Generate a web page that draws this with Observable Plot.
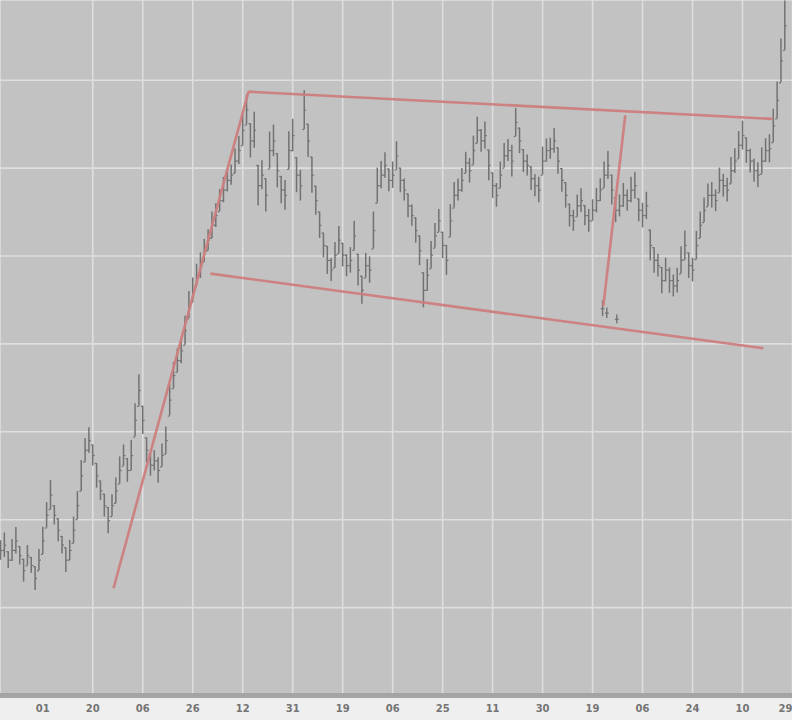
<!DOCTYPE html>
<html><head><meta charset="utf-8">
<script src="https://cdn.jsdelivr.net/npm/d3@7"></script>
<script src="https://cdn.jsdelivr.net/npm/@observablehq/plot@0.6"></script>
<style>html,body{margin:0;padding:0;background:#efefef;overflow:hidden;}</style>
</head><body><div id="chart"></div>
<script>
// Bar midpoints (price units), one per trading day
const mid = [
16.5,17.1,15.4,16.5,17.6,15.9,14.2,15.9,14.8,13.3,
15.4,17.6,20.5,22.8,20.5,18.8,17.1,15.4,16.5,18.8,
21.6,25.0,27.9,29.0,27.3,25.0,23.3,21.6,19.9,21.6,
23.3,25.6,27.3,25.6,27.3,31.3,34.7,31.3,27.9,26.2,
26.7,25.6,27.3,29.0,33.6,36.4,38.1,39.2,41.5,44.4,
46.1,47.8,48.9,50.6,51.8,53.5,54.6,56.3,57.5,58.6,
59.2,60.8,62.0,64.3,66.6,63.1,64.3,58.0,59.2,56.9,
62.0,63.1,59.7,57.5,56.9,62.0,63.7,59.2,58.0,66.6,
63.1,59.2,56.3,53.5,51.2,49.5,48.4,50.1,51.8,50.1,
48.9,49.5,52.3,48.4,46.1,48.9,48.4,52.9,58.0,59.2,
60.3,58.6,59.2,61.4,58.6,57.5,55.7,54.6,52.9,50.6,
46.1,47.8,50.1,52.3,54.0,51.2,49.5,54.0,56.9,57.5,
58.6,60.6,59.7,62.0,64.3,63.1,63.7,60.3,58.0,56.9,
59.2,61.4,62.0,60.8,65.2,63.1,60.8,60.3,58.8,58.0,
57.5,60.8,62.0,62.2,63.1,60.8,58.6,56.9,54.6,54.0,
55.7,56.3,54.6,54.0,55.2,56.3,57.5,59.2,60.3,57.5,
55.2,55.7,56.9,56.3,57.5,58.0,55.2,54.6,55.7,51.2,
49.5,48.9,47.2,48.4,47.2,46.6,47.2,49.5,51.2,48.9,
48.4,51.2,53.5,55.2,56.9,56.9,56.3,58.6,58.0,57.5,
59.7,60.8,62.6,63.7,62.0,60.8,59.7,59.2,60.8,62.0,
62.2,64.8,67.7,72.2,76.2
];
// High-low range of each bar (price units)
const span = [
2.2,2.8,1.9,2.5,3.0,2.1,2.6,2.3,1.8,2.7,
2.4,3.1,2.9,3.3,2.2,2.6,2.0,2.8,2.3,3.0,
3.2,3.5,2.7,2.9,2.4,2.8,2.2,2.6,3.0,2.5,
2.9,3.1,2.4,2.7,3.4,3.8,3.6,3.2,2.8,2.5,
2.3,2.9,2.6,3.1,3.6,3.0,2.7,2.9,3.3,3.1,
2.8,2.5,2.9,2.6,2.4,3.0,2.7,2.5,2.9,2.6,
2.3,2.8,3.2,3.5,3.4,3.9,4.1,4.6,3.3,3.8,
4.2,3.6,3.9,3.1,3.4,4.3,3.7,4.0,3.5,4.4,
3.8,4.1,3.3,3.0,2.8,3.2,2.6,2.9,3.1,2.7,
2.5,2.9,3.3,3.6,3.2,2.8,3.0,4.2,4.0,3.1,
2.9,2.6,3.0,3.2,2.8,2.5,2.7,2.4,2.9,3.4,
4.0,3.6,3.1,2.8,2.6,3.0,3.4,3.7,2.9,2.5,
2.7,2.4,2.8,3.3,3.0,2.6,3.1,3.5,2.9,2.7,
3.0,2.8,2.5,3.6,3.2,2.9,2.6,2.4,2.7,2.5,
2.9,3.2,2.6,2.4,2.8,3.0,2.7,2.9,2.6,2.4,
2.5,2.7,2.3,2.6,2.4,2.8,2.6,3.0,3.2,3.4,
2.8,2.5,2.7,2.4,2.9,3.0,2.6,2.8,3.1,3.5,
2.9,2.6,3.0,2.7,2.9,2.5,2.8,3.1,3.3,2.9,
2.7,3.2,3.0,2.8,2.6,2.9,2.5,2.8,2.6,2.7,
3.0,2.8,3.1,3.3,2.9,2.7,2.6,2.8,3.0,2.7,
3.2,3.8,4.2,5.0,5.6
];
// stray ticks at the foot of the vertical trend line
const strayIndex = [156.6, 157.7, 160.3];
const strayMid = [44.0, 43.5, 42.8];
const straySpan = [1.8, 1.2, 1.0];

// x-axis ticks (bar index) and labels
const tickIndex = [11,24,37,50,63,76,89,102,115,128,141,154,167,180,193,206];
const tickLabels = ["01","20","06","26","12","31","19","06","25","11","30","19","06","24","10","29"];
const gridPrices = [10,20,30,40,50,60,70];

// hand-drawn trend lines (bar index, price)
const trendX1 = [29.4, 64.5, 54.6, 156.8];
const trendY1 = [12.2, 68.7, 48.0, 44.3];
const trendX2 = [64.5, 200.8, 198.4, 162.5];
const trendY2 = [68.7, 65.6, 39.5, 66.0];

const bars = mid.map((m, i) => {
  const hi = m + span[i] / 2, lo = m - span[i] / 2;
  const prev = i > 0 ? mid[i - 1] : m;
  return {i, hi, lo, open: Math.max(lo, Math.min(hi, prev)), close: m};
});
const strays = strayIndex.map((x, k) => ({i: x, hi: strayMid[k] + straySpan[k] / 2, lo: strayMid[k] - straySpan[k] / 2, m: strayMid[k]}));
const trends = trendX1.map((x, k) => ({x1: x, y1: trendY1[k], x2: trendX2[k], y2: trendY2[k]}));
const ticks = tickIndex.map((x, k) => ({x, label: tickLabels[k], last: k === tickIndex.length - 1}));

const barColor = "#727272";
const chart = Plot.plot({
  width: 792, height: 720,
  marginTop: 0, marginRight: 0, marginLeft: 0, marginBottom: 25,
  style: {background: "#efefef", fontFamily: "DejaVu Sans, sans-serif"},
  x: {domain: [0, 206], axis: null},
  y: {domain: [0, 79.07], axis: null},
  marks: [
    Plot.frame({fill: "#c2c2c2", stroke: null}),
    Plot.ruleX(tickIndex.slice(1), {stroke: "#dedede", strokeWidth: 1.6}),
    Plot.ruleY(gridPrices, {stroke: "#dedede", strokeWidth: 1.6}),
    Plot.ruleX(bars, {x: "i", y1: "lo", y2: "hi", stroke: barColor, strokeWidth: 1.5}),
    Plot.link(bars, {x1: d => d.i - 0.5, x2: "i", y1: "open", y2: "open", stroke: barColor, strokeWidth: 1.2}),
    Plot.link(bars, {x1: "i", x2: d => d.i + 0.5, y1: "close", y2: "close", stroke: barColor, strokeWidth: 1.2}),
    Plot.ruleX(strays, {x: "i", y1: "lo", y2: "hi", stroke: barColor, strokeWidth: 1.4}),
    Plot.link(strays, {x1: d => d.i - 0.5, x2: d => d.i + 0.5, y1: "m", y2: "m", stroke: barColor, strokeWidth: 1.2}),
    Plot.link(trends, {x1: "x1", y1: "y1", x2: "x2", y2: "y2", stroke: "#cd7d7d", strokeWidth: 2.6, strokeOpacity: 0.95}),
    Plot.ruleY([0], {stroke: "#a4a4a4", strokeWidth: 5}),
    Plot.text(ticks.filter(d => !d.last), {x: "x", text: "label", frameAnchor: "bottom", dy: 16, fontSize: 10, fill: "#747474", fontWeight: "bold"}),
    Plot.text(ticks.filter(d => d.last), {x: "x", text: "label", frameAnchor: "bottom", dy: 16, textAnchor: "end", fontSize: 10, fill: "#747474", fontWeight: "bold"})
  ]
});
document.getElementById("chart").appendChild(chart);
</script>
</body></html>
